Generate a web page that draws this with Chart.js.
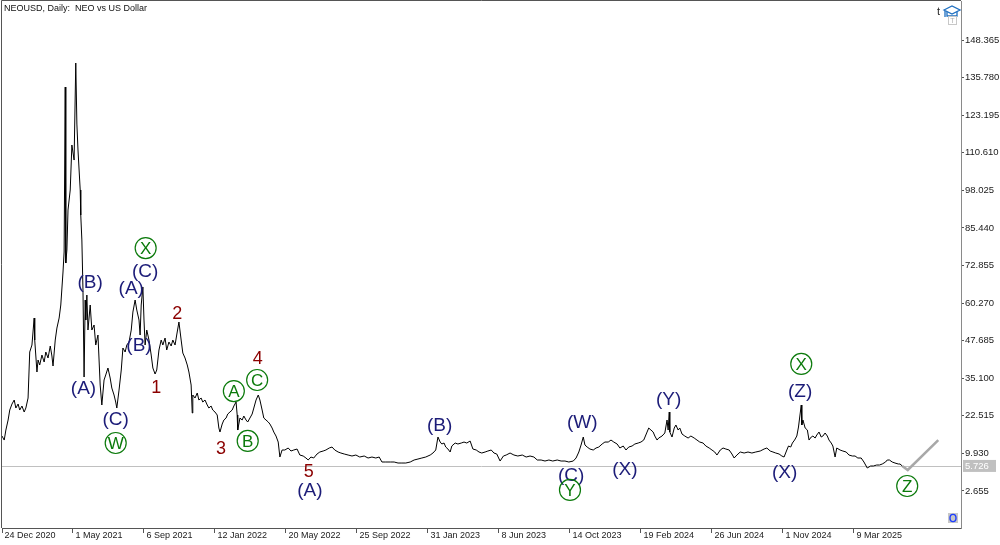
<!DOCTYPE html>
<html>
<head>
<meta charset="utf-8">
<title>NEOUSD, Daily</title>
<script src="https://cdn.jsdelivr.net/npm/chart.js@4.4.1/dist/chart.umd.min.js"></script>
<style>
  html, body { margin: 0; padding: 0; background: #fff; }
  #chartBox { width: 1000px; height: 545px; }
</style>
</head>
<body>
<div id="chartBox"><canvas id="neoChart" width="1000" height="545"></canvas></div>
<script>
// Daily closes, days counted from 24 Dec 2020
const closeDays = [
  0, 4, 7, 11, 14, 18, 22, 25, 29, 32, 36, 40, 43, 47, 50, 54, 58, 59, 63, 65,
  68, 72, 76, 79, 83, 87, 90, 92, 96, 99, 103, 106, 110, 112, 114, 115, 117, 119, 123, 126,
  130, 133, 135, 137, 141, 142, 144, 146, 148, 150, 151, 153, 155, 159, 162, 166, 169, 173, 177, 180,
  184, 187, 191, 195, 198, 202, 205, 207, 211, 215, 218, 222, 225, 229, 233, 236, 240, 243, 247, 249,
  251, 254, 256, 258, 261, 265, 269, 272, 276, 279, 283, 287, 290, 294, 297, 301, 305, 308, 312, 315,
  319, 323, 326, 330, 334, 337, 341, 343, 344, 348, 352, 355, 359, 362, 366, 370, 373, 377, 380, 384,
  388, 391, 393, 397, 400, 404, 407, 411, 415, 418, 422, 424, 425, 429, 433, 436, 440, 443, 447, 451,
  454, 458, 462, 465, 469, 472, 476, 480, 483, 487, 490, 494, 498, 501, 505, 510, 516, 521, 526, 532,
  537, 543, 548, 552, 557, 562, 568, 573, 579, 584, 590, 595, 600, 606, 611, 617, 624, 631, 638, 645,
  653, 660, 667, 674, 680, 685, 692, 700, 707, 714, 721, 728, 736, 743, 750, 757, 764, 772, 777, 782,
  786, 790, 793, 797, 800, 804, 808, 811, 817, 822, 828, 833, 838, 844, 849, 855, 860, 865, 871, 876,
  882, 887, 892, 898, 904, 909, 916, 923, 930, 938, 945, 952, 959, 965, 972, 979, 986, 993, 1001, 1008,
  1015, 1022, 1030, 1035, 1040, 1044, 1048, 1051, 1055, 1060, 1066, 1071, 1076, 1082, 1087, 1093, 1098, 1103, 1109, 1114,
  1120, 1125, 1130, 1136, 1141, 1147, 1152, 1157, 1163, 1166, 1170, 1174, 1177, 1181, 1184, 1190, 1195, 1199, 1201, 1203,
  1204, 1208, 1212, 1215, 1219, 1222, 1226, 1231, 1237, 1242, 1248, 1253, 1258, 1264, 1269, 1275, 1280, 1285, 1289, 1295,
  1300, 1305, 1311, 1316, 1320, 1325, 1331, 1338, 1345, 1352, 1359, 1367, 1374, 1379, 1385, 1390, 1395, 1401, 1406, 1410,
  1415, 1418, 1422, 1425, 1429, 1433, 1436, 1438, 1441, 1442, 1444, 1448, 1452, 1455, 1459, 1462, 1466, 1469, 1473, 1477,
  1480, 1484, 1488, 1491, 1495, 1498, 1502, 1505, 1511, 1516, 1522, 1527, 1533, 1538, 1543, 1549, 1554, 1560, 1566, 1571,
  1577, 1582, 1587, 1593, 1596, 1600, 1605, 1610, 1616, 1619, 1623
];
const closePrices = [
  15.74, 14.40, 17.75, 21.10, 24.45, 26.46, 27.80, 25.12, 26.46, 24.45, 25.79, 23.78, 25.12, 28.47, 43.88, 46.22, 55.26, 47.89, 37.18, 41.20,
  39.53, 42.87, 40.53, 43.88, 41.87, 45.89, 42.54, 39.19, 47.89, 51.91, 55.26, 59.62, 70.67, 77.37, 132.62, 73.68, 78.04, 91.43, 98.13, 113.20,
  108.17, 140.66, 120.23, 111.53, 98.13, 89.76, 81.39, 64.64, 35.50, 61.29, 54.59, 62.96, 51.24, 59.62, 51.24, 52.92, 46.22, 49.57, 32.82, 26.13,
  34.50, 36.18, 38.52, 35.17, 31.82, 29.48, 27.13, 25.12, 31.15, 37.85, 45.22, 43.88, 46.22, 47.22, 51.24, 57.27, 61.29, 57.94, 54.59, 49.57,
  59.62, 65.64, 54.59, 46.22, 51.24, 47.89, 42.87, 38.52, 36.51, 37.85, 44.55, 47.89, 46.22, 48.56, 44.55, 47.22, 45.89, 47.89, 46.22, 49.57,
  53.92, 47.89, 43.54, 41.87, 39.53, 37.18, 32.82, 23.45, 29.48, 28.47, 30.15, 27.80, 28.47, 27.13, 27.80, 26.13, 25.12, 25.79, 24.45, 23.78,
  22.78, 18.42, 17.08, 19.76, 21.10, 21.77, 23.11, 23.78, 24.45, 25.79, 27.13, 22.78, 17.75, 21.77, 21.10, 22.44, 21.10, 20.43, 21.77, 23.11,
  25.12, 27.80, 29.48, 27.80, 24.45, 21.77, 21.10, 20.43, 19.76, 18.42, 17.08, 15.74, 13.73, 8.71, 11.06, 11.06, 11.73, 10.72, 11.06, 11.39,
  9.38, 9.05, 8.38, 7.71, 8.71, 8.38, 9.72, 10.39, 10.72, 11.06, 11.73, 12.06, 11.06, 10.39, 10.05, 9.72, 9.38, 9.05, 9.38, 8.71,
  9.05, 8.38, 8.71, 8.38, 8.71, 7.04, 7.04, 7.04, 7.04, 6.70, 6.70, 6.70, 7.04, 7.71, 8.04, 8.38, 8.71, 9.38, 10.05, 11.06,
  15.41, 13.73, 13.07, 13.40, 12.06, 11.39, 10.39, 12.40, 13.40, 13.07, 13.40, 13.73, 13.40, 14.07, 11.39, 11.06, 10.39, 10.05, 10.39, 10.72,
  11.06, 10.05, 9.72, 7.37, 9.05, 9.38, 10.05, 9.38, 9.05, 9.38, 8.71, 9.05, 8.71, 7.71, 7.71, 7.37, 7.71, 7.37, 7.71, 7.37,
  7.37, 7.04, 7.37, 8.38, 10.39, 12.73, 15.41, 12.73, 12.06, 11.39, 11.06, 11.73, 12.06, 13.07, 13.73, 13.73, 14.40, 13.73, 13.07, 11.73,
  12.40, 11.06, 12.06, 12.40, 13.07, 13.40, 13.73, 14.40, 17.08, 18.42, 17.75, 17.08, 15.74, 14.40, 15.07, 15.74, 16.75, 21.10, 17.75, 23.78,
  17.08, 15.41, 18.42, 19.43, 17.75, 18.42, 16.41, 15.74, 15.07, 15.74, 15.07, 14.40, 13.73, 13.40, 12.40, 11.73, 11.06, 10.39, 9.38, 11.06,
  11.73, 11.39, 11.06, 9.72, 8.38, 9.38, 10.39, 10.05, 10.39, 10.05, 10.39, 10.72, 11.39, 11.73, 10.72, 10.39, 10.05, 9.72, 9.05, 8.71,
  11.06, 12.40, 12.06, 13.40, 14.40, 15.74, 18.76, 21.77, 26.13, 19.43, 21.10, 18.42, 17.75, 14.40, 15.41, 15.74, 15.07, 16.08, 17.08, 15.41,
  15.74, 16.75, 15.74, 14.40, 13.40, 12.40, 8.71, 11.73, 11.06, 10.72, 10.39, 9.38, 9.05, 9.05, 8.38, 8.38, 7.04, 5.03, 5.70, 5.70,
  6.03, 6.03, 6.37, 7.04, 7.71, 7.71, 7.04, 6.70, 6.37, 6.37, 5.73
];
const lastPrice = 5.726;

// projected path (grey)
const projDays = [1623, 1633, 1688];
const projPrices = [5.73, 4.36, 14.40];

// x axis
const xTickDays = [0, 128, 256, 384, 512, 640, 768, 896, 1024, 1152, 1280, 1408, 1536];
const xTickLabels = ['24 Dec 2020', '1 May 2021', '6 Sep 2021', '12 Jan 2022', '20 May 2022', '25 Sep 2022',
  '31 Jan 2023', '8 Jun 2023', '14 Oct 2023', '19 Feb 2024', '26 Jun 2024', '1 Nov 2024', '9 Mar 2025'];
// y axis
const yTickValues = [148.365, 135.780, 123.195, 110.610, 98.025, 85.440, 72.855, 60.270, 47.685, 35.100, 22.515, 9.930, -2.655];
const yTickLabels = ['148.365', '135.780', '123.195', '110.610', '98.025', '85.440', '72.855', '60.270', '47.685',
  '35.100', '22.515', '9.930', '2.655'];

// wave marks
const waveText  = ['(A)', '(B)', '(C)', 'W', '(A)', '(C)', 'X', '(B)', '1', '2', '3', '4', 'A', 'B', 'C', '5', '(A)',
  '(B)', '(W)', '(C)', 'Y', '(X)', '(Y)', '(X)', '(Z)', 'X', 'Z'];
const waveDay   = [147, 159, 205, 205, 233, 258, 259, 247, 278, 316, 395, 461, 418, 443, 460, 553, 555,
  789, 1046, 1026, 1024, 1123, 1202, 1411, 1439, 1441, 1632];
const wavePrice = [32.0, 67.5, 21.6, 13.4, 65.5, 71.0, 78.7, 46.2, 32.2, 56.9, 11.6, 41.9, 30.8, 14.1, 34.5, 3.9, -2.3,
  19.4, 20.6, 2.9, -2.3, 4.7, 28.1, 3.7, 30.8, 39.9, -1.0];
const waveKind  = ['minor', 'minor', 'minor', 'circle', 'minor', 'minor', 'circle', 'minor', 'num', 'num', 'num', 'num',
  'circle', 'circle', 'circle', 'num', 'minor', 'minor', 'minor', 'minor', 'circle', 'minor', 'minor', 'minor', 'minor',
  'circle', 'circle'];

const FONT = '"Liberation Sans", Arial, sans-serif';

function toPoints(xs, ys) {
  return xs.map((d, i) => ({ x: d, y: ys[i] }));
}

// extra drawing: frame, price line, wave labels, icons
const decorPlugin = {
  id: 'decor',
  beforeDatasetsDraw(chart) {
    const { ctx, chartArea: a, scales: { y } } = chart;
    const py = Math.round(y.getPixelForValue(lastPrice)) + 0.5;
    ctx.save();
    ctx.strokeStyle = '#c0c0c0';
    ctx.lineWidth = 1;
    ctx.beginPath();
    ctx.moveTo(a.left, py);
    ctx.lineTo(a.right, py);
    ctx.stroke();
    ctx.restore();
  },
  afterDraw(chart) {
    const { ctx, chartArea: a, scales: { x, y } } = chart;
    ctx.save();

    // frame left/top
    ctx.strokeStyle = '#555';
    ctx.lineWidth = 1;
    ctx.beginPath();
    ctx.moveTo(1.5, a.bottom);
    ctx.lineTo(1.5, 0.5);
    ctx.lineTo(a.right, 0.5);
    ctx.stroke();

    // title
    ctx.fillStyle = '#111';
    ctx.font = '9px ' + FONT;
    ctx.textAlign = 'left';
    ctx.textBaseline = 'middle';
    ctx.fillText('NEOUSD, Daily:  NEO vs US Dollar', 4, 9);

    // wave labels
    for (let i = 0; i < waveText.length; i++) {
      const px = x.getPixelForValue(waveDay[i]);
      const py = y.getPixelForValue(wavePrice[i]);
      ctx.textAlign = 'center';
      ctx.textBaseline = 'middle';
      if (waveKind[i] === 'circle') {
        ctx.strokeStyle = '#0b7a0b';
        ctx.lineWidth = 1.2;
        ctx.beginPath();
        ctx.arc(px, py, 10.5, 0, Math.PI * 2);
        ctx.stroke();
        ctx.fillStyle = '#0b7a0b';
        ctx.font = '17px ' + FONT;
        ctx.fillText(waveText[i], px, py + 1);
      } else if (waveKind[i] === 'num') {
        ctx.fillStyle = '#8b0000';
        ctx.font = '18px ' + FONT;
        ctx.fillText(waveText[i], px, py + 1);
      } else {
        ctx.fillStyle = '#1c1c78';
        ctx.font = '19px ' + FONT;
        ctx.fillText(waveText[i], px, py + 1);
      }
    }

    // current price box on the axis
    const ly = y.getPixelForValue(lastPrice);
    ctx.fillStyle = '#c0c0c0';
    ctx.fillRect(a.right + 2, ly - 6, 33, 12);
    ctx.fillStyle = '#fff';
    ctx.font = '9.5px ' + FONT;
    ctx.textAlign = 'left';
    ctx.fillText(lastPrice.toFixed(3), a.right + 4, ly + 0.5);

    // top right icons
    ctx.fillStyle = '#222';
    ctx.font = '11px ' + FONT;
    ctx.fillText('t', 937, 12);
    ctx.strokeStyle = '#1e6fc0';
    ctx.lineWidth = 1.3;
    ctx.beginPath();
    ctx.moveTo(944, 10); ctx.lineTo(952, 6); ctx.lineTo(960, 10); ctx.lineTo(952, 14); ctx.closePath();
    ctx.stroke();
    ctx.beginPath();
    ctx.moveTo(947, 12); ctx.lineTo(947, 16); ctx.lineTo(957, 16); ctx.lineTo(957, 12);
    ctx.moveTo(945, 11); ctx.lineTo(945, 17);
    ctx.stroke();
    ctx.strokeStyle = '#c8c8c8';
    ctx.lineWidth = 1;
    ctx.strokeRect(948.5, 16.5, 8, 8);
    ctx.fillStyle = '#b0b0b0';
    ctx.font = '7px ' + FONT;
    ctx.textAlign = 'center';
    ctx.fillText('T', 952.5, 21);

    // bottom right button
    ctx.fillStyle = '#c8c8c8';
    ctx.fillRect(948, 513, 10, 10);
    ctx.strokeStyle = '#1f3fff';
    ctx.lineWidth = 1.4;
    ctx.beginPath();
    ctx.ellipse(953, 518, 3, 3.6, 0, 0, Math.PI * 2);
    ctx.stroke();

    ctx.restore();
  }
};

function initChart() {
  const ctx = document.getElementById('neoChart');
  return new Chart(ctx, {
    type: 'line',
    data: {
      datasets: [{
        label: 'NEOUSD',
        data: toPoints(closeDays, closePrices),
        borderColor: '#000',
        borderWidth: 1,
        pointRadius: 0,
        tension: 0
      }, {
        label: 'projection',
        data: toPoints(projDays, projPrices),
        borderColor: '#a8a8a8',
        borderWidth: 2.5,
        pointRadius: 0,
        tension: 0
      }]
    },
    options: {
      responsive: false,
      animation: false,
      events: [],
      layout: { padding: { left: 2, top: 1, right: 0, bottom: 0 } },
      plugins: {
        legend: { display: false },
        tooltip: { enabled: false }
      },
      scales: {
        x: {
          type: 'linear',
          position: 'bottom',
          min: 0,
          max: 1729,
          afterBuildTicks(scale) { scale.ticks = xTickDays.map(v => ({ value: v })); },
          afterFit(scale) {
            scale.height = 17;
            scale.paddingLeft = 0;
            scale.paddingRight = 0;
          },
          grid: { drawOnChartArea: false, drawTicks: true, tickLength: 5, color: '#555' },
          border: { display: true, color: '#555' },
          ticks: {
            autoSkip: false,
            maxRotation: 0,
            align: 'start',
            padding: -3,
            color: '#1a1a1a',
            font: { family: FONT, size: 9 },
            callback: (v, i) => ' ' + xTickLabels[i]
          }
        },
        y: {
          type: 'linear',
          position: 'right',
          min: -15.06,
          max: 161.43,
          afterBuildTicks(scale) { scale.ticks = yTickValues.map(v => ({ value: v })); },
          afterFit(scale) {
            scale.width = 39;
            scale.paddingTop = 0;
            scale.paddingBottom = 0;
          },
          grid: { drawOnChartArea: false, drawTicks: true, tickLength: 3, color: '#555' },
          border: { display: true, color: '#8a8a8a' },
          ticks: {
            padding: 1,
            color: '#1a1a1a',
            font: { family: FONT, size: 9.5 },
            callback: (v, i) => yTickLabels[i]
          }
        }
      }
    },
    plugins: [decorPlugin]
  });
}

document.addEventListener('DOMContentLoaded', () => {
  initChart();
});
</script>
</body>
</html>
